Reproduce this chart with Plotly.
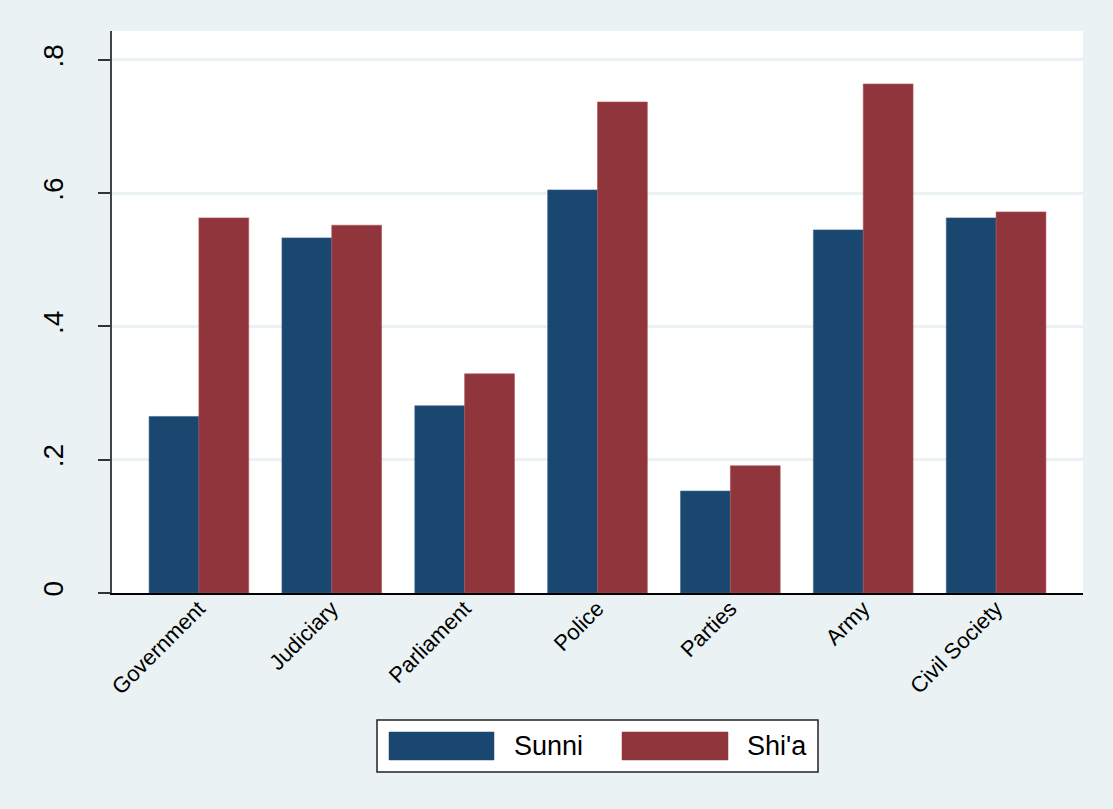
import plotly.graph_objects as go

# Data
categories = ['Government', 'Judiciary', 'Parliament', 'Police', 'Parties', 'Army', 'Civil Society']
sunni = [0.265, 0.533, 0.281, 0.605, 0.153, 0.545, 0.563]
shia = [0.563, 0.552, 0.329, 0.737, 0.191, 0.764, 0.572]
series_names = ['Sunni', "Shi'a"]
y_ticks = [0, 0.2, 0.4, 0.6, 0.8]
y_tick_labels = ['0', '.2', '.4', '.6', '.8']

SUNNI_COLOR = '#1A476F'
SHIA_COLOR = '#90353B'
BG = '#EAF2F3'
FONT = 'Liberation Sans, Arial, sans-serif'

W, H = 1113, 809
L, R, T, B = 112, 30, 31, 216

fig = go.Figure()
fig.add_trace(go.Bar(x=categories, y=sunni, name=series_names[0],
                     marker=dict(color=SUNNI_COLOR, line=dict(color='#3d6489', width=0.6))))
fig.add_trace(go.Bar(x=categories, y=shia, name=series_names[1],
                     marker=dict(color=SHIA_COLOR, line=dict(color='#a9555b', width=0.6))))

fig.update_layout(
    width=W, height=H,
    margin=dict(l=L, r=R, t=T, b=B),
    paper_bgcolor=BG,
    plot_bgcolor='white',
    barmode='group',
    bargap=0.25,
    bargroupgap=0,
    showlegend=False,
    font=dict(family=FONT, color='black'),
)

fig.update_xaxes(
    range=[-0.654, len(categories) - 1 + 0.654],
    tickangle=-45,
    tickfont=dict(size=22),
    showline=True, linecolor='black', linewidth=2,
    ticks='', showgrid=False,
    ticklabelstandoff=-8,
)
fig.update_yaxes(
    range=[0, 0.8435],
    tickvals=y_ticks, ticktext=y_tick_labels,
    tickangle=-90,
    tickfont=dict(size=28),
    ticks='outside', ticklen=12, tickcolor='#333333', tickwidth=1.5,
    showline=True, linecolor='#444444', linewidth=1.5,
    showgrid=True, gridcolor=BG, gridwidth=2.5,
    zeroline=False,
    ticklabelstandoff=24,
)

# custom legend box (Stata style wide swatches)
def px_x(p):
    return (p - L) / (W - L - R)

def px_y(p):
    return (H - B - p) / (H - T - B)

fig.add_shape(type='rect', xref='paper', yref='paper',
              x0=px_x(377), x1=px_x(818), y0=px_y(772), y1=px_y(720),
              line=dict(color='#222222', width=1.5), fillcolor='white')
swatches = [(389, 494, SUNNI_COLOR, 512), (622, 728, SHIA_COLOR, 745)]
for (sx0, sx1, col, tx), name in zip(swatches, series_names):
    fig.add_shape(type='rect', xref='paper', yref='paper',
                  x0=px_x(sx0), x1=px_x(sx1), y0=px_y(760), y1=px_y(732),
                  line=dict(color=col, width=0.5), fillcolor=col)
    fig.add_annotation(xref='paper', yref='paper', x=px_x(tx), y=px_y(746),
                       text=name, showarrow=False, xanchor='left', yanchor='middle',
                       font=dict(size=27, family=FONT, color='black'))

# remove the default page margin so the figure sits at the window corner
fig.write_html('out.html', config={'displayModeBar': False},
               post_script="document.body.style.margin='0';")
